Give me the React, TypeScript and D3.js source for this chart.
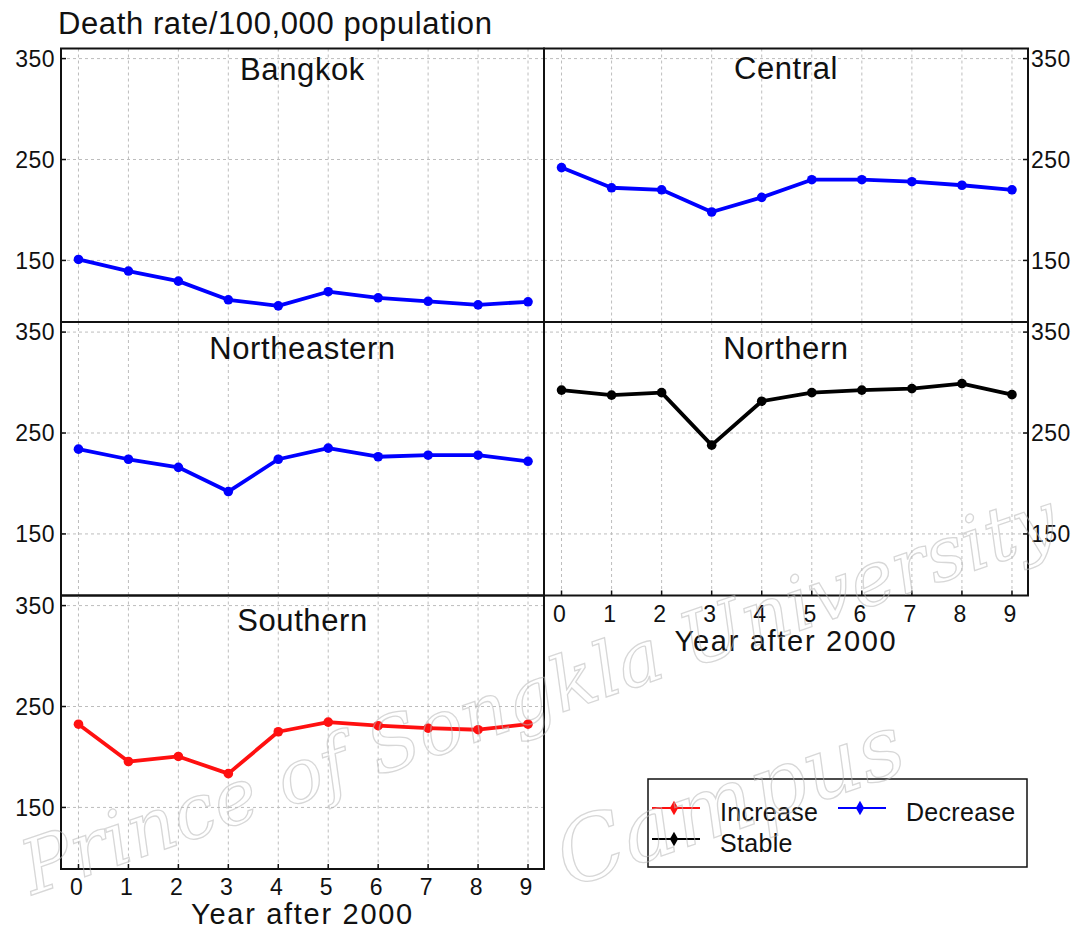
import React from "react";
import * as d3 from "d3";

// Death rate per 100,000 population by region, years 0..9 after 2000
const years = [0, 1, 2, 3, 4, 5, 6, 7, 8, 9];
const bangkok = [151, 139.5, 129.5, 111, 105, 119, 113, 109.5, 106, 109];
const central = [242, 222, 220, 198, 212.5, 230, 230, 228, 224.5, 220];
const northeastern = [234, 224, 216, 192, 224, 235, 226.5, 228, 228, 222];
const northern = [292.5, 287.5, 290, 238, 281.5, 290, 292.5, 294, 299, 288];
const southern = [232.5, 195.5, 200.5, 183.5, 225, 234.5, 231, 228.5, 227, 232.5];

const yTicks = [150, 250, 350];
const trendNames = ["Increase", "Decrease", "Stable"];
const trendColors: Record<string, string> = {
  Increase: "#ff1010",
  Decrease: "#0000ff",
  Stable: "#000000",
};

const W = 1081;
const H = 932;
const FONT = "'Liberation Sans', Arial, sans-serif";

// column x-extents and row y-extents of the panel grid
const cols = [
  [61, 544],
  [544, 1028],
];
const rows = [
  [48.5, 322],
  [322, 595.5],
  [595.5, 869],
];

interface Panel {
  name: string;
  values: number[];
  trend: string;
  col: number;
  row: number;
  titleDy: number;
  xAxis: boolean;
}

const panels: Panel[] = [
  { name: "Bangkok", values: bangkok, trend: "Decrease", col: 0, row: 0, titleDy: 31, xAxis: false },
  { name: "Central", values: central, trend: "Decrease", col: 1, row: 0, titleDy: 30, xAxis: false },
  { name: "Northeastern", values: northeastern, trend: "Decrease", col: 0, row: 1, titleDy: 37, xAxis: false },
  { name: "Northern", values: northern, trend: "Stable", col: 1, row: 1, titleDy: 37, xAxis: true },
  { name: "Southern", values: southern, trend: "Increase", col: 0, row: 2, titleDy: 35, xAxis: true },
];

const PanelChart: React.FC<{ p: Panel }> = ({ p }) => {
  const [x0, x1] = cols[p.col];
  const [y0, y1] = rows[p.row];
  const x = d3.scaleLinear().domain([-0.35, 9.32]).range([x0, x1]);
  const y = d3.scaleLinear().domain([89, 360]).range([y1, y0]);
  const color = trendColors[p.trend];
  const line = d3
    .line<number>()
    .x((_, i) => x(years[i]))
    .y((d) => y(d));
  const rightAxis = p.col === 1;

  return (
    <g>
      {/* grid */}
      {years.map((yr) => (
        <line
          key={"gx" + yr}
          x1={x(yr)}
          x2={x(yr)}
          y1={y0}
          y2={y1}
          stroke="#bdbdbd"
          strokeWidth={1}
          strokeDasharray="3,3"
        />
      ))}
      {yTicks.map((t) => (
        <line
          key={"gy" + t}
          x1={x0}
          x2={x1}
          y1={y(t)}
          y2={y(t)}
          stroke="#bdbdbd"
          strokeWidth={1}
          strokeDasharray="3,3"
        />
      ))}

      {/* frame */}
      <rect x={x0} y={y0} width={x1 - x0} height={y1 - y0} fill="none" stroke="#111" strokeWidth={2} />

      {/* y ticks + labels */}
      {yTicks.map((t) => (
        <g key={"yt" + t}>
          <line
            x1={rightAxis ? x1 : x0}
            x2={rightAxis ? x1 - 5 : x0 + 5}
            y1={y(t)}
            y2={y(t)}
            stroke="#111"
            strokeWidth={1.5}
          />
          <text
            x={rightAxis ? x1 + 3 : x0 - 6}
            y={y(t)}
            dy="0.36em"
            textAnchor={rightAxis ? "start" : "end"}
            fontSize={23}
            fontFamily={FONT}
            letterSpacing={0.5}
            fill="#111"
          >
            {t}
          </text>
        </g>
      ))}

      {/* x ticks + labels */}
      {p.xAxis &&
        years.map((yr) => (
          <g key={"xt" + yr}>
            <line x1={x(yr)} x2={x(yr)} y1={y1} y2={y1 - 5} stroke="#111" strokeWidth={1.5} />
            <text
              x={x(yr) - 2}
              y={y1 + 26}
              textAnchor="middle"
              fontSize={23}
              fontFamily={FONT}
              fill="#111"
            >
              {yr}
            </text>
          </g>
        ))}
      {p.xAxis && (
        <text
          x={(x0 + x1) / 2}
          y={y1 + 55}
          textAnchor="middle"
          fontSize={29}
          fontFamily={FONT}
          letterSpacing={1.7}
          fill="#111"
        >
          Year after 2000
        </text>
      )}

      {/* panel title */}
      <text
        x={(x0 + x1) / 2}
        y={y0 + p.titleDy}
        textAnchor="middle"
        fontSize={31}
        fontFamily={FONT}
        letterSpacing={0.6}
        fill="#111"
      >
        {p.name}
      </text>

      {/* series */}
      <path d={line(p.values) || ""} fill="none" stroke={color} strokeWidth={3.8} strokeLinejoin="round" />
      {p.values.map((v, i) => (
        <circle key={"pt" + i} cx={x(years[i])} cy={y(v)} r={4.8} fill={color} />
      ))}
    </g>
  );
};

const Legend: React.FC = () => {
  // box placed in the empty bottom-right cell
  const bx = 648;
  const by = 779;
  const items = [
    { name: trendNames[0], lx: 652, ly: 808 },
    { name: trendNames[1], lx: 838, ly: 808 },
    { name: trendNames[2], lx: 652, ly: 839 },
  ];
  return (
    <g>
      <rect x={bx} y={by} width={379} height={88} fill="#fff" stroke="#111" strokeWidth={1.5} />
      {items.map((it) => (
        <g key={it.name}>
          <line x1={it.lx} x2={it.lx + 48} y1={it.ly} y2={it.ly} stroke={trendColors[it.name]} strokeWidth={2} />
          <path
            d={d3.symbol(d3.symbolDiamond, 60)() || ""}
            transform={`translate(${it.lx + 22},${it.ly})`}
            fill={trendColors[it.name]}
          />
          <text
            x={it.lx + 68}
            y={it.ly + 13}
            fontSize={25}
            fontFamily={FONT}
            letterSpacing={0.3}
            fill="#111"
          >
            {it.name}
          </text>
        </g>
      ))}
    </g>
  );
};

// faint outlined watermark running diagonally across the lower half
const Watermark: React.FC = () => (
  <g transform="translate(0,906) rotate(-19)" opacity={0.55} pointerEvents="none">
    <text
      x={34}
      y={0}
      fontSize={75}
      fontStyle="italic"
      fontFamily="'DejaVu Serif', serif"
      fill="none"
      stroke="#b8b8b8"
      strokeWidth={1.3}
    >
      Prince of Songkla University
    </text>
    <text
      x={905}
      y={168}
      textAnchor="end"
      fontSize={88}
      fontStyle="italic"
      fontFamily="'DejaVu Serif', serif"
      fill="none"
      stroke="#b8b8b8"
      strokeWidth={1.3}
    >
      Campus
    </text>
  </g>
);

export default function App() {
  return (
    <div style={{ position: "absolute", left: 0, top: 0 }}>
      <svg width={W} height={H} style={{ display: "block", background: "#fff" }}>
        <text x={58} y={34} fontSize={31} fontFamily={FONT} letterSpacing={0.6} fill="#111">
          Death rate/100,000 population
        </text>
        {panels.map((p) => (
          <PanelChart key={p.name} p={p} />
        ))}
        <Legend />
        <Watermark />
      </svg>
    </div>
  );
}
